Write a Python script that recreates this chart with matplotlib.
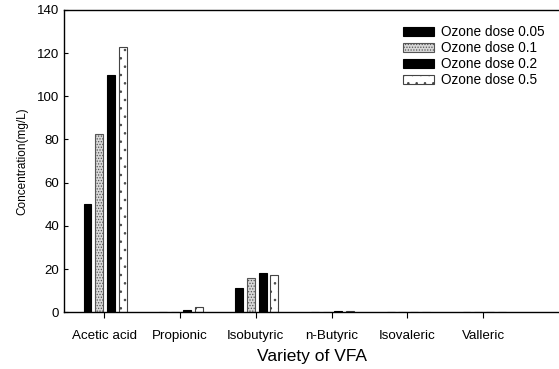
import matplotlib
matplotlib.use("Agg")
import matplotlib.pyplot as plt
import numpy as np

plt.rcParams['font.family'] = ['Liberation Sans', 'DejaVu Sans']
plt.rcParams['hatch.linewidth'] = 0.6

categories = ["Acetic acid", "Propionic", "Isobutyric", "n-Butyric", "Isovaleric", "Valleric"]
series_labels = ["Ozone dose 0.05", "Ozone dose 0.1", "Ozone dose 0.2", "Ozone dose 0.5"]
dose_005 = [50.0, 0.0, 11.0, 0.0, 0.0, 0.2]
dose_01 = [82.5, 0.0, 16.0, 0.0, 0.0, 0.2]
dose_02 = [110.0, 0.8, 18.0, 0.7, 0.3, 0.3]
dose_05 = [123.0, 2.3, 17.0, 0.6, 0.3, 0.3]
y_ticks = [0, 20, 40, 60, 80, 100, 120, 140]

fig = plt.figure(figsize=(5.59, 3.69), dpi=100)
ax = fig.add_axes([0.1145, 0.154, 0.8855, 0.819])

x = np.arange(len(categories))
w = 0.105
offsets = [-0.22, -0.065, 0.09, 0.245]
styles = [
    dict(color="black", edgecolor="black"),
    dict(color="#d8d8d8", edgecolor="#555555", hatch="......"),
    dict(color="black", edgecolor="black"),
    dict(color="white", edgecolor="#444444", hatch=".."),
]
for vals, off, st, lab in zip([dose_005, dose_01, dose_02, dose_05], offsets, styles, series_labels):
    ax.bar(x + off, vals, width=w, label=lab, linewidth=0.8, **st)

ax.set_xlim(-0.53, 6.0)
ax.set_ylim(0, 140)
ax.set_yticks(y_ticks)
ax.set_xticks(x)
ax.set_xticklabels(categories, fontsize=9.6)
ax.tick_params(axis='y', direction='in', length=3, labelsize=9.5)
ax.tick_params(axis='x', direction='out', length=4, labelsize=9.6, pad=9)
ax.spines['right'].set_visible(False)
for s in ['left', 'top', 'bottom']:
    ax.spines[s].set_linewidth(1.0)

ax.set_xlabel("Variety of VFA", fontsize=12.5, labelpad=5)
ax.set_ylabel("Concentration(mg/L)", fontsize=8.5, labelpad=6)

leg = ax.legend(loc='upper left', bbox_to_anchor=(0.685, 0.95), frameon=False, fontsize=9.8,
                handlelength=2.25, handleheight=0.7, labelspacing=0.15, handletextpad=0.5,
                borderpad=0, borderaxespad=0)

fig.savefig("out.png", dpi=100)
